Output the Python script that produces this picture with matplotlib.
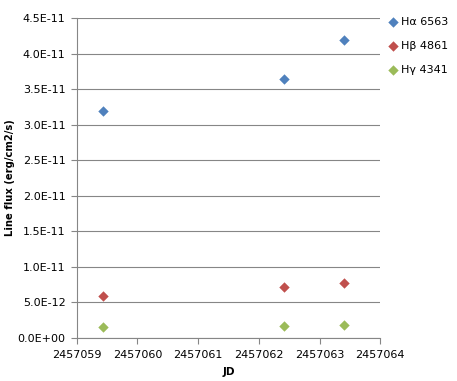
import matplotlib
matplotlib.use("Agg")
import matplotlib.pyplot as plt
import numpy as np

matplotlib.rcParams["font.family"] = "DejaVu Sans"
matplotlib.rcParams["font.size"] = 8

jd = [2457059.43, 2457062.41, 2457063.41]
h_alpha = [3.19e-11, 3.65e-11, 4.20e-11]
h_beta = [5.8e-12, 7.1e-12, 7.75e-12]
h_gamma = [1.45e-12, 1.6e-12, 1.75e-12]
labels = ["H\u03b1 6563", "H\u03b2 4861", "H\u03b3 4341"]
colors = ["#4F81BD", "#C0504D", "#9BBB59"]

fig = plt.figure(figsize=(4.57, 3.81), dpi=100)
ax = fig.add_axes([0.168, 0.114, 0.664, 0.838])

for ys, lab, c in zip([h_alpha, h_beta, h_gamma], labels, colors):
    ax.scatter(jd, ys, marker="D", s=28, color=c, label=lab, zorder=3, linewidths=0)

ax.set_xlim(2457059, 2457064)
ax.set_ylim(0, 4.5e-11)
ax.set_xticks(np.arange(2457059, 2457065, 1))
ax.set_xticklabels([str(v) for v in range(2457059, 2457065)])
yt = np.arange(0, 4.6e-11, 5e-12)
ax.set_yticks(yt)
ax.set_yticklabels(["%.1E" % v for v in yt])

ax.grid(axis="y", color="#868686", linewidth=0.8)
ax.set_axisbelow(True)
for s in ["top", "right"]:
    ax.spines[s].set_visible(False)
for s in ["left", "bottom"]:
    ax.spines[s].set_color("#868686")
ax.tick_params(axis="both", colors="#868686", labelcolor="black", length=4, direction="out")
ax.tick_params(axis="y", pad=4)
ax.tick_params(axis="x", pad=5)

ax.set_xlabel("JD", fontweight="bold", fontsize=7.5, labelpad=5)
ax.set_ylabel("Line flux (erg/cm2/s)", fontweight="bold", fontsize=7.2, labelpad=2)

ax.legend(loc="upper left", bbox_to_anchor=(0.99, 1.035), frameon=False,
          handletextpad=0.2, labelspacing=1.25, handlelength=1.0, borderaxespad=0.5)

fig.savefig("out.png", dpi=100)
